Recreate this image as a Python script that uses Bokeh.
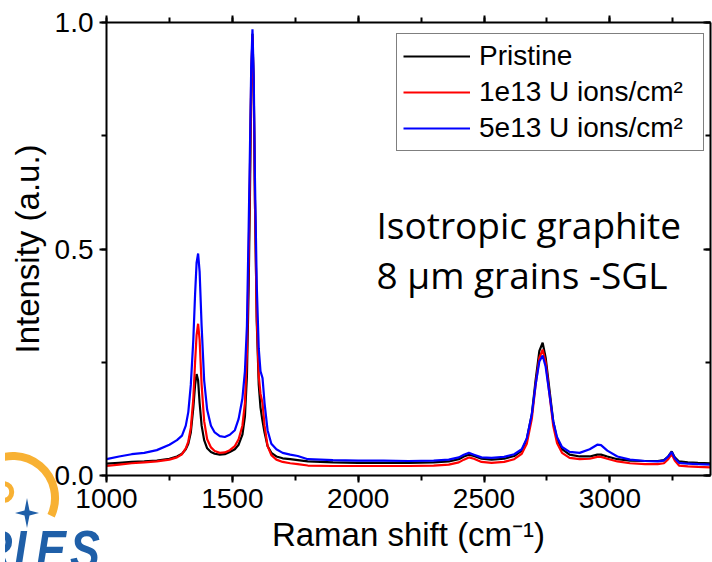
from bokeh.embed import file_html
from bokeh.layouts import column
from bokeh.models import (Div, Legend, LegendItem, LinearAxis, Label,
                          PrintfTickFormatter, SingleIntervalTicker)
from bokeh.plotting import figure
from bokeh.resources import INLINE

# Raman shift grid (cm^-1)
shift = [1000, 1050, 1100, 1150, 1200, 1250, 1280, 1300, 1315, 1325, 1335, 1345,
         1352, 1358, 1364, 1370, 1378, 1388, 1400, 1415, 1430, 1450, 1470, 1490,
         1510, 1525, 1540, 1550, 1558, 1565, 1570, 1575, 1580, 1585, 1590, 1597,
         1605, 1612, 1620, 1628, 1640, 1655, 1675, 1700, 1730, 1760, 1800, 1900,
         2000, 2100, 2200, 2300, 2360, 2400, 2420, 2440, 2460, 2490, 2530, 2580,
         2620, 2650, 2670, 2690, 2705, 2720, 2733, 2745, 2760, 2775, 2790, 2810,
         2840, 2880, 2920, 2950, 2965, 2990, 3030, 3080, 3140, 3190, 3215, 3232,
         3246, 3258, 3275, 3310, 3350, 3400]

pristine = [.026, .028, .030, .031, .033, .037, .042, .048, .058, .070, .095, .150,
            .200, .224, .210, .160, .110, .078, .060, .052, .048, .046, .047, .052,
            .058, .068, .090, .130, .220, .420, .620, .860, .975, .860, .600, .340,
            .200, .150, .120, .095, .065, .050, .042, .038, .036, .034, .031, .029,
            .028, .028, .028, .029, .031, .036, .042, .046, .043, .037, .035, .037,
            .043, .055, .080, .135, .210, .275, .293, .260, .190, .120, .080, .058,
            .046, .042, .042, .046, .046, .042, .036, .033, .032, .032, .034, .042,
            .053, .040, .031, .029, .028, .027]

dose_1e13 = [.021, .024, .027, .029, .031, .035, .040, .047, .060, .075, .105, .170,
             .250, .310, .335, .300, .200, .120, .080, .062, .054, .050, .051, .056,
             .065, .080, .110, .160, .270, .480, .670, .880, .970, .850, .600, .350,
             .220, .180, .160, .110, .065, .045, .035, .030, .027, .025, .022, .021,
             .021, .021, .021, .022, .024, .029, .035, .040, .037, .030, .028, .030,
             .036, .048, .070, .125, .200, .260, .278, .250, .180, .110, .072, .050,
             .039, .036, .037, .041, .041, .037, .031, .027, .025, .025, .027, .036,
             .047, .033, .022, .020, .019, .018]

dose_5e13 = [.036, .042, .047, .050, .056, .068, .078, .088, .110, .140, .200, .300,
             .400, .470, .490, .450, .330, .210, .145, .110, .095, .087, .085, .090,
             .100, .125, .170, .230, .330, .550, .720, .900, .985, .880, .650, .420,
             .280, .230, .215, .160, .100, .070, .058, .050, .046, .043, .036, .034,
             .033, .033, .032, .033, .035, .040, .046, .050, .046, .040, .039, .041,
             .047, .058, .082, .135, .200, .252, .265, .240, .180, .120, .085, .063,
             .052, .050, .058, .068, .067, .055, .042, .035, .032, .031, .033, .042,
             .052, .038, .028, .026, .025, .024]

series_names = ["Pristine", "1e13 U ions/cm\u00b2", "5e13 U ions/cm\u00b2"]
series_colors = ["#000000", "#ff0000", "#0000ff"]

X_START, X_END = 1000, 3400
Y_START, Y_END = 0.0, 1.0
W, H = 712, 562
BORDER_L, BORDER_R, BORDER_T, BORDER_B = 106, 2, 22, 87

AXIS_FONT = "Liberation Sans"

p = figure(width=W, height=H, x_range=(X_START, X_END), y_range=(Y_START, Y_END),
           output_backend="svg", toolbar_location=None,
           min_border_left=BORDER_L, min_border_right=BORDER_R,
           min_border_top=BORDER_T, min_border_bottom=BORDER_B,
           x_axis_label="Raman shift (cm\u207b\u00b9)", y_axis_label="Intensity (a.u.)")
p.xgrid.visible = False
p.ygrid.visible = False
p.outline_line_color = None
p.background_fill_color = "white"
p.border_fill_color = "white"


def frame_x(px):
    """Canvas pixel column -> data x, for text placed inside the frame."""
    fw = W - BORDER_L - BORDER_R
    return X_START + (px - BORDER_L) * (X_END - X_START) / fw


def frame_y(py):
    fh = H - BORDER_T - BORDER_B
    return Y_START + (H - BORDER_B - py) * (Y_END - Y_START) / fh


renderers = []
for ys, color in zip([pristine, dose_1e13, dose_5e13], series_colors):
    r = p.line(shift, ys, line_color=color, line_width=2.2)
    renderers.append(r)


def style_axis(ax, labels=True, tick_in=False):
    ax.axis_line_color = "black"
    ax.axis_line_width = 2
    ax.major_tick_line_color = "black"
    ax.major_tick_line_width = 2
    ax.minor_tick_line_color = "black"
    ax.minor_tick_line_width = 2
    if tick_in:
        ax.major_tick_in, ax.major_tick_out = 7, 0
        ax.minor_tick_in, ax.minor_tick_out = 5, 0
    else:
        ax.major_tick_in, ax.major_tick_out = 0, 7
        ax.minor_tick_in, ax.minor_tick_out = 0, 5
    ax.major_label_text_font = AXIS_FONT
    ax.major_label_text_font_size = "28px"
    ax.major_label_text_color = "black"
    ax.major_label_standoff = 6
    ax.axis_label_text_font = AXIS_FONT
    ax.axis_label_text_font_size = "33px"
    ax.axis_label_text_font_style = "normal"
    ax.axis_label_text_color = "black"
    ax.axis_label_standoff = 5
    if not labels:
        ax.major_label_text_font_size = "0px"
        ax.major_label_text_alpha = 0


p.xaxis.ticker = SingleIntervalTicker(interval=500, num_minor_ticks=2)
p.yaxis.ticker = SingleIntervalTicker(interval=0.5, num_minor_ticks=2)
p.yaxis.formatter = PrintfTickFormatter(format="%.1f")
style_axis(p.xaxis[0])
style_axis(p.yaxis[0])
p.yaxis[0].axis_label_standoff = 6

top_axis = LinearAxis(ticker=SingleIntervalTicker(interval=500, num_minor_ticks=2))
style_axis(top_axis, labels=False)
p.add_layout(top_axis, "above")

right_axis = LinearAxis(ticker=SingleIntervalTicker(interval=0.5, num_minor_ticks=2))
style_axis(right_axis, labels=False, tick_in=True)
p.add_layout(right_axis, "right")

legend = Legend(items=[LegendItem(label=n, renderers=[r]) for n, r in zip(series_names, renderers)],
                location=(290, 324))
legend.label_text_font = AXIS_FONT
legend.label_text_font_size = "28px"
legend.label_text_color = "black"
legend.glyph_width = 67
legend.glyph_height = 30
legend.label_height = 30
legend.label_width = 218
legend.label_standoff = 9
legend.spacing = 4
legend.padding = 6
legend.margin = 0
legend.border_line_color = "black"
legend.border_line_width = 1
legend.background_fill_alpha = 1.0
p.add_layout(legend)

# sample description
for txt, py in [("Isotropic graphite", 224), ("8 \u00b5m grains -SGL", 274)]:
    p.add_layout(Label(x=frame_x(376), y=frame_y(py), text=txt,
                       text_font="Open Sans", text_font_size="37px",
                       text_color="black", text_baseline="alphabetic"))

# project logo overlapping the lower-left corner of the chart
logo_svg = """
<svg xmlns="http://www.w3.org/2000/svg" width="110" height="122" viewBox="0 0 110 122">
  <path d="M -16.1 23.6 A 42 42 0 0 1 46.1 75.7" fill="none" stroke="#f8b133" stroke-width="8"/>
  <path d="M -0.5 43.6 A 8.5 8.5 0 0 1 -0.5 60.4" fill="none" stroke="#f8b133" stroke-width="5"/>
  <polygon points="22,58 24.5,70.5 34,73 24.5,75.5 22,88 19.5,75.5 10,73 19.5,70.5" fill="#1f5fa8"/>
  <g font-family="Liberation Sans" font-weight="bold" font-style="italic" font-size="56" fill="#1f5fa8">
    <text transform="translate(-25,129) scale(0.8,1)">R</text>
    <text transform="translate(9,129) scale(0.8,1)">I</text>
    <text transform="translate(31,129) scale(0.8,1)">E</text>
    <text transform="translate(65,129) scale(0.8,1)">S</text>
  </g>
</svg>
"""
logo = Div(text=logo_svg, width=110, height=122,
           styles={"margin-top": "-122px", "position": "relative", "z-index": "5",
                   "overflow": "hidden", "pointer-events": "none"})

page = column(p, logo, spacing=0)

open("out.html", "w").write(file_html(page, INLINE))
